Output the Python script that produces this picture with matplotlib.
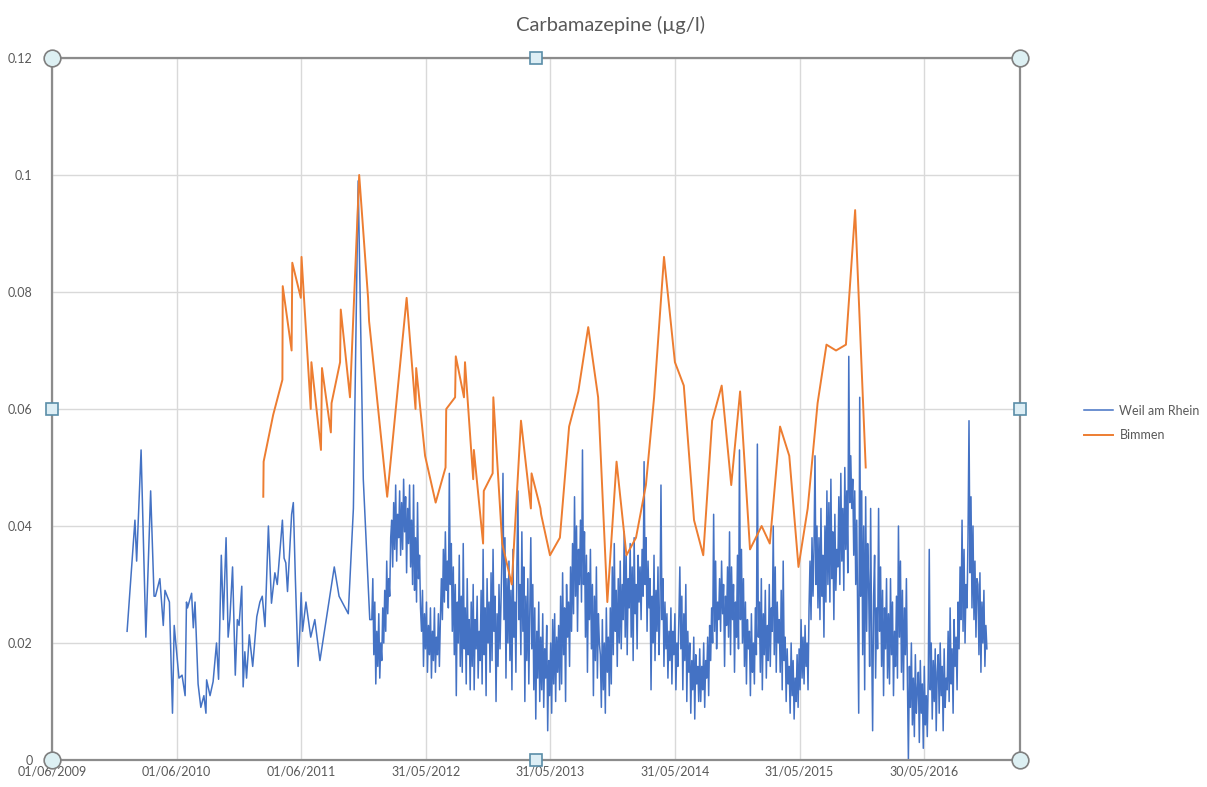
import numpy as np
import pandas as pd
import matplotlib
matplotlib.use("Agg")
import matplotlib.pyplot as plt
import matplotlib.dates as mdates
from matplotlib.ticker import FuncFormatter

plt.rcParams['font.family'] = ['Lato', 'DejaVu Sans']

# Weil am Rhein, sparse samples 2010-2011
weil_dates = [
    "2010-01-07", "2010-01-30", "2010-02-04", "2010-02-17", "2010-03-03", "2010-03-17",
    "2010-03-27", "2010-03-31", "2010-04-13", "2010-04-23", "2010-04-28", "2010-05-11",
    "2010-05-20", "2010-05-25", "2010-06-08", "2010-06-17", "2010-06-26", "2010-06-30",
    "2010-07-03", "2010-07-15", "2010-07-20", "2010-07-25", "2010-08-03", "2010-08-11",
    "2010-08-20", "2010-08-26", "2010-08-28", "2010-09-07", "2010-09-16", "2010-09-26",
    "2010-10-02", "2010-10-10", "2010-10-16", "2010-10-24", "2010-10-30", "2010-11-04",
    "2010-11-12", "2010-11-20", "2010-11-26", "2010-12-01", "2010-12-09", "2010-12-13",
    "2010-12-18", "2010-12-23", "2010-12-31", "2011-01-10", "2011-01-22", "2011-01-31",
    "2011-02-07", "2011-02-15", "2011-02-25", "2011-03-06", "2011-03-16", "2011-03-23",
    "2011-04-07", "2011-04-12", "2011-04-17", "2011-04-22", "2011-05-04", "2011-05-09",
    "2011-05-15", "2011-05-23", "2011-05-28", "2011-06-01", "2011-06-05", "2011-06-15",
    "2011-06-29", "2011-07-11", "2011-07-26", "2011-09-06", "2011-09-20", "2011-10-17",
    "2011-11-01", "2011-11-15", "2011-11-30", "2011-12-19",
]
weil_values = [
    0.022, 0.041, 0.034, 0.053, 0.021, 0.046,
    0.028, 0.028, 0.031, 0.023, 0.029, 0.027,
    0.008, 0.023, 0.014, 0.0145, 0.011, 0.027,
    0.026, 0.0285, 0.0226, 0.027, 0.013, 0.009,
    0.011, 0.008, 0.0137, 0.011, 0.0134, 0.020,
    0.0138, 0.035, 0.024, 0.038, 0.021, 0.024,
    0.033, 0.0145, 0.024, 0.023, 0.0297, 0.0125,
    0.0185, 0.014, 0.0214, 0.016, 0.0245, 0.027,
    0.028, 0.0228, 0.040, 0.0268, 0.032, 0.030,
    0.041, 0.0345, 0.0337, 0.0288, 0.042, 0.044,
    0.031, 0.016, 0.022, 0.0286, 0.022, 0.027,
    0.021, 0.024, 0.017, 0.033, 0.028, 0.025,
    0.043, 0.099, 0.048, 0.024,
]

# Weil am Rhein, frequent samples from end of 2011
weil_dense_start = "2011-12-25"
weil_dense_end = "2016-11-30"
weil_dense = [
    0.024, 0.031, 0.018, 0.027, 0.013, 0.022, 0.016, 0.025, 0.014, 0.020,
    0.017, 0.026, 0.020, 0.029, 0.022, 0.034, 0.025, 0.031, 0.028, 0.038,
    0.041, 0.033, 0.044, 0.036, 0.047, 0.034, 0.042, 0.038, 0.046, 0.035,
    0.044, 0.036, 0.048, 0.039, 0.045, 0.032, 0.043, 0.037, 0.047, 0.033,
    0.041, 0.030, 0.047, 0.029, 0.038, 0.027, 0.044, 0.031, 0.035, 0.026,
    0.022, 0.029, 0.016, 0.025, 0.019, 0.027, 0.015, 0.023, 0.018, 0.026,
    0.014, 0.022, 0.017, 0.026, 0.015, 0.021, 0.018, 0.025, 0.016, 0.024,
    0.031, 0.024, 0.036, 0.027, 0.039, 0.029, 0.034, 0.026, 0.049, 0.030,
    0.037, 0.022, 0.033, 0.018, 0.030, 0.011, 0.027, 0.020, 0.035, 0.016,
    0.028, 0.015, 0.037, 0.019, 0.026, 0.013, 0.031, 0.018, 0.024, 0.012,
    0.027, 0.016, 0.030, 0.012, 0.024, 0.019, 0.028, 0.014, 0.022, 0.017,
    0.029, 0.013, 0.036, 0.018, 0.026, 0.011, 0.031, 0.020, 0.027, 0.015,
    0.032, 0.017, 0.036, 0.022, 0.028, 0.010, 0.025, 0.016, 0.030, 0.019,
    0.027, 0.035, 0.049, 0.024, 0.038, 0.014, 0.031, 0.020, 0.034, 0.017,
    0.029, 0.012, 0.036, 0.021, 0.027, 0.015, 0.033, 0.046, 0.024, 0.030,
    0.018, 0.039, 0.022, 0.033, 0.010, 0.028, 0.017, 0.031, 0.013, 0.025,
    0.038, 0.019, 0.030, 0.012, 0.026, 0.007, 0.022, 0.014, 0.027, 0.010,
    0.021, 0.012, 0.025, 0.009, 0.019, 0.014, 0.023, 0.005, 0.017, 0.011,
    0.020, 0.008, 0.024, 0.013, 0.025, 0.010, 0.021, 0.015, 0.023, 0.012,
    0.028, 0.013, 0.032, 0.018, 0.026, 0.010, 0.030, 0.021, 0.027, 0.016,
    0.033, 0.022, 0.037, 0.025, 0.045, 0.028, 0.040, 0.022, 0.036, 0.030,
    0.041, 0.027, 0.053, 0.030, 0.039, 0.021, 0.035, 0.015, 0.032, 0.024,
    0.036, 0.019, 0.030, 0.011, 0.028, 0.017, 0.033, 0.014, 0.025, 0.020,
    0.018, 0.009, 0.024, 0.012, 0.020, 0.008, 0.026, 0.015, 0.021, 0.011,
    0.026, 0.013, 0.033, 0.018, 0.037, 0.022, 0.029, 0.016, 0.031, 0.020,
    0.034, 0.019, 0.030, 0.024, 0.039, 0.021, 0.035, 0.018, 0.031, 0.026,
    0.037, 0.021, 0.033, 0.017, 0.038, 0.025, 0.030, 0.019, 0.035, 0.027,
    0.033, 0.024, 0.036, 0.028, 0.051, 0.030, 0.038, 0.022, 0.034, 0.026,
    0.031, 0.012, 0.028, 0.020, 0.035, 0.017, 0.029, 0.022, 0.033, 0.018,
    0.026, 0.047, 0.024, 0.031, 0.016, 0.027, 0.019, 0.025, 0.014, 0.022,
    0.017, 0.026, 0.013, 0.022, 0.018, 0.025, 0.012, 0.020, 0.016, 0.024,
    0.033, 0.019, 0.028, 0.012, 0.025, 0.017, 0.030, 0.010, 0.022, 0.015,
    0.020, 0.008, 0.017, 0.012, 0.021, 0.007, 0.018, 0.013, 0.016, 0.010,
    0.019, 0.010, 0.016, 0.012, 0.020, 0.009, 0.017, 0.014, 0.021, 0.011,
    0.023, 0.017, 0.026, 0.020, 0.042, 0.022, 0.034, 0.019, 0.027, 0.024,
    0.031, 0.022, 0.034, 0.025, 0.030, 0.016, 0.028, 0.023, 0.033, 0.021,
    0.039, 0.018, 0.033, 0.024, 0.030, 0.015, 0.027, 0.021, 0.035, 0.019,
    0.053, 0.024, 0.036, 0.020, 0.031, 0.016, 0.027, 0.013, 0.024, 0.019,
    0.022, 0.011, 0.025, 0.015, 0.020, 0.013, 0.026, 0.018, 0.054, 0.021,
    0.027, 0.015, 0.031, 0.012, 0.025, 0.018, 0.029, 0.014, 0.023, 0.017,
    0.030, 0.016, 0.026, 0.022, 0.040, 0.018, 0.033, 0.015, 0.027, 0.020,
    0.024, 0.015, 0.029, 0.012, 0.034, 0.017, 0.021, 0.010, 0.019, 0.013,
    0.016, 0.008, 0.020, 0.011, 0.017, 0.007, 0.014, 0.010, 0.018, 0.009,
    0.019, 0.012, 0.024, 0.014, 0.021, 0.013, 0.023, 0.016, 0.020, 0.012,
    0.026, 0.034, 0.024, 0.038, 0.028, 0.036, 0.052, 0.030, 0.040, 0.026,
    0.038, 0.024, 0.043, 0.028, 0.035, 0.021, 0.040, 0.027, 0.046, 0.030,
    0.044, 0.027, 0.048, 0.031, 0.039, 0.024, 0.042, 0.029, 0.036, 0.033,
    0.045, 0.030, 0.049, 0.034, 0.043, 0.029, 0.050, 0.036, 0.046, 0.032,
    0.069, 0.044, 0.052, 0.043, 0.048, 0.035, 0.046, 0.030, 0.041, 0.024,
    0.008, 0.062, 0.028, 0.046, 0.018, 0.040, 0.012, 0.045, 0.022, 0.037,
    0.030, 0.016, 0.043, 0.021, 0.005, 0.028, 0.035, 0.014, 0.026, 0.019,
    0.043, 0.022, 0.033, 0.016, 0.029, 0.011, 0.026, 0.019, 0.031, 0.014,
    0.025, 0.013, 0.031, 0.018, 0.027, 0.011, 0.022, 0.016, 0.028, 0.014,
    0.040, 0.021, 0.034, 0.015, 0.029, 0.012, 0.026, 0.018, 0.031, 0.014,
    0.000, 0.016, 0.009, 0.020, 0.006, 0.014, 0.004, 0.018, 0.008, 0.012,
    0.015, 0.003, 0.017, 0.008, 0.013, 0.002, 0.016, 0.006, 0.011, 0.004,
    0.014, 0.036, 0.012, 0.020, 0.007, 0.017, 0.010, 0.019, 0.005, 0.015,
    0.018, 0.008, 0.020, 0.011, 0.016, 0.005, 0.019, 0.009, 0.014, 0.012,
    0.022, 0.010, 0.026, 0.013, 0.019, 0.008, 0.024, 0.016, 0.021, 0.012,
    0.027, 0.019, 0.033, 0.024, 0.041, 0.022, 0.036, 0.020, 0.030, 0.026,
    0.038, 0.058, 0.032, 0.045, 0.026, 0.040, 0.024, 0.034, 0.021, 0.031,
    0.030, 0.018, 0.032, 0.015, 0.027, 0.020, 0.029, 0.016, 0.023, 0.019,
]

# Bimmen
bimmen_dates = [
    "2011-02-10", "2011-02-11", "2011-03-11", "2011-04-07", "2011-04-08", "2011-05-04",
    "2011-05-06", "2011-05-31", "2011-06-02", "2011-06-29", "2011-07-01", "2011-07-29",
    "2011-08-01", "2011-08-27", "2011-08-29", "2011-09-23", "2011-09-25", "2011-10-22",
    "2011-11-18", "2011-12-14", "2011-12-17", "2012-02-08", "2012-04-05", "2012-05-01",
    "2012-05-03", "2012-05-29", "2012-06-29", "2012-07-28", "2012-07-30", "2012-08-25",
    "2012-08-27", "2012-09-20", "2012-09-23", "2012-10-17", "2012-10-19", "2012-11-15",
    "2012-11-17", "2012-12-13", "2012-12-15", "2013-01-10", "2013-02-07", "2013-03-06",
    "2013-04-04", "2013-04-06", "2013-05-02", "2013-05-04", "2013-05-30", "2013-06-28",
    "2013-07-25", "2013-08-21", "2013-09-19", "2013-10-18", "2013-11-14", "2013-12-11",
    "2014-01-09", "2014-02-06", "2014-03-07", "2014-03-31", "2014-04-29", "2014-05-31",
    "2014-06-26", "2014-07-26", "2014-08-22", "2014-09-17", "2014-10-15", "2014-11-12",
    "2014-12-08", "2015-01-06", "2015-02-09", "2015-03-05", "2015-04-04", "2015-05-01",
    "2015-05-28", "2015-06-24", "2015-07-23", "2015-08-18", "2015-09-15", "2015-10-14",
    "2015-11-10", "2015-12-11",
]
bimmen_values = [
    0.045, 0.051, 0.059, 0.065, 0.081, 0.070,
    0.085, 0.079, 0.086, 0.060, 0.068, 0.053,
    0.067, 0.056, 0.061, 0.068, 0.077, 0.062,
    0.100, 0.079, 0.075, 0.045, 0.079, 0.060,
    0.067, 0.052, 0.044, 0.050, 0.060, 0.062,
    0.069, 0.062, 0.068, 0.048, 0.053, 0.037,
    0.046, 0.049, 0.062, 0.037, 0.030, 0.058,
    0.043, 0.049, 0.043, 0.042, 0.035, 0.038,
    0.057, 0.063, 0.074, 0.062, 0.027, 0.051,
    0.035, 0.038, 0.047, 0.062, 0.086, 0.068,
    0.064, 0.041, 0.035, 0.058, 0.064, 0.047,
    0.063, 0.036, 0.040, 0.037, 0.057, 0.052,
    0.033, 0.043, 0.061, 0.071, 0.070, 0.071,
    0.094, 0.050,
]

x_ticks = pd.date_range("2009-06-01", periods=8, freq="365D")
x_min, x_max = pd.Timestamp("2009-06-01"), pd.Timestamp("2017-03-07")
y_ticks = [0, 0.02, 0.04, 0.06, 0.08, 0.1, 0.12]

weil_x = list(pd.to_datetime(weil_dates)) + list(
    pd.date_range(weil_dense_start, weil_dense_end, periods=len(weil_dense)))
weil_y = weil_values + weil_dense

txt = "#595959"
fig = plt.figure(figsize=(12.07, 7.87), dpi=100)
ax = fig.add_axes([52 / 1207, 1 - 760 / 787, (1020 - 52) / 1207, (760 - 58) / 787])

ax.plot(weil_x, weil_y, color="#4472C4", lw=1.1, label="Weil am Rhein")
ax.plot(pd.to_datetime(bimmen_dates), bimmen_values, color="#ED7D31", lw=1.4,
        label="Bimmen")

ax.set_xlim(x_min, x_max)
ax.set_ylim(0, 0.12)
ax.set_xticks(x_ticks)
ax.xaxis.set_major_formatter(mdates.DateFormatter("%d/%m/%Y"))
ax.set_yticks(y_ticks)
ax.yaxis.set_major_formatter(FuncFormatter(lambda v, p: f"{v:g}"))
ax.grid(True, color="#D9D9D9", lw=1)
ax.set_axisbelow(True)
ax.tick_params(length=0, labelsize=9, colors=txt)
ax.tick_params(axis="y", pad=14)
ax.tick_params(axis="x", pad=4)
for s in ax.spines.values():
    s.set_color("#8C8C8C")
    s.set_linewidth(1.6)

# selection handles around the plot area
for hx, hy in [(0, 0), (0, 1), (1, 0), (1, 1)]:
    ax.plot(hx, hy, "o", ms=12, mfc="#DDF0F3", mec="#7F7F7F", mew=1.2,
            transform=ax.transAxes, clip_on=False, zorder=10)
for hx, hy in [(0.5, 0), (0.5, 1), (0, 0.5), (1, 0.5)]:
    ax.plot(hx, hy, "s", ms=9, mfc="#DDEEF5", mec="#5A8DA8", mew=1.2,
            transform=ax.transAxes, clip_on=False, zorder=10)

fig.text(610 / 1207, 1 - 25 / 787, "Carbamazepine (µg/l)", ha="center", va="center",
         fontsize=14.5, color=txt)
leg = ax.legend(loc="center left", bbox_to_anchor=(1.055, 0.48), frameon=False,
                fontsize=9, handlelength=2.3, labelspacing=1.0, handletextpad=0.5)
for t in leg.get_texts():
    t.set_color(txt)

fig.savefig("out.png", dpi=100, facecolor="white")
